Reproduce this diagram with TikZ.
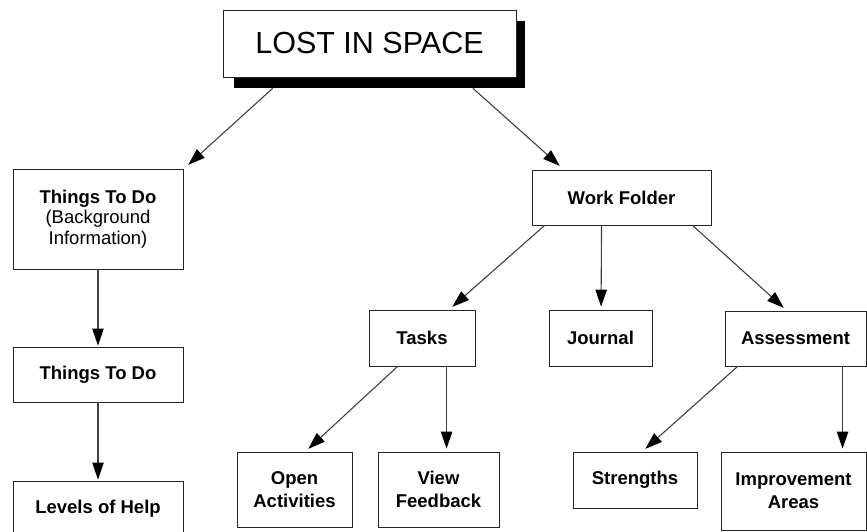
\documentclass[tikz,border=0pt]{standalone}
\usepackage{fontspec}
\setmainfont{Liberation Sans}
\usetikzlibrary{arrows.meta,calc}
\tikzset{
  box/.style={draw=black!85, line width=0.9pt, fill=white, align=center, inner sep=0pt,
    font=\bfseries\fontsize{18.5}{23}\selectfont},
  conn/.style={draw=black!75, line width=1.1pt, -{Triangle[length=17pt,width=11.5pt,color=black]}, shorten >=1pt},
}
\begin{document}
\begin{tikzpicture}[x=1pt,y=-1pt]
\useasboundingbox (0,0) rectangle (867,532);
% title with shadow
\node[fill=black, inner sep=0pt, minimum width=291pt, minimum height=67pt] (shadow) at (379.5,54.5) {};
\node[box, font=\fontsize{30.5}{34}\selectfont, minimum width=293pt, minimum height=67pt] (title) at (369.5,43.5) {LOST IN SPACE};
% left column
\node[box, font=\bfseries\fontsize{18.5}{20.5}\selectfont, minimum width=170pt, minimum height=100pt] (bg) at (98,219) {Things To Do\\\mdseries(Background\\\mdseries Information)};
\node[box, minimum width=170pt, minimum height=55pt] (todo) at (98,374.5) {Things To Do};
\node[box, minimum width=170pt, minimum height=56pt] (levels) at (98,509) {Levels of Help};
% right part
\node[box, minimum width=179pt, minimum height=55pt] (work) at (621.5,197.5) {Work Folder};
\node[box, minimum width=106pt, minimum height=56pt] (tasks) at (422,338) {Tasks};
\node[box, minimum width=103pt, minimum height=56pt] (journal) at (600.5,338) {Journal};
\node[box, minimum width=141pt, minimum height=55pt] (assess) at (795.5,338.5) {Assessment};
\node[box, minimum width=115pt, minimum height=75pt] (open) at (294.5,489.5) {Open\\Activities};
\node[box, minimum width=121pt, minimum height=75pt] (view) at (438.5,489.5) {View\\Feedback};
\node[box, minimum width=124pt, minimum height=56pt] (strength) at (635,480) {Strengths};
\node[box, minimum width=145pt, minimum height=78pt] (improve) at (793.5,491) {Improvement\\Areas};
% connectors
\draw[conn] ($(shadow.south west)+(39,0)$) -- ($(bg.north east)+(4,-3)$);
\draw[conn] ($(shadow.south west)+(239,0)$) -- ($(work.north west)+(29,-3)$);
\draw[conn] (bg.south) -- (todo.north);
\draw[conn] (todo.south) -- (levels.north);
\draw[conn] ($(work.south west)+(13,0)$) -- ($(tasks.north west)+(83,-2)$);
\draw[conn] ($(work.south west)+(70,0)$) -- ($(journal.north west)+(52.5,-2)$);
\draw[conn] ($(work.south west)+(161,0)$) -- ($(assess.north west)+(60,-2)$);
\draw[conn] ($(tasks.south west)+(29,0)$) -- ($(open.north west)+(71,-2)$);
\draw[conn] ($(tasks.south west)+(78,0)$) -- ($(view.north west)+(69,-2)$);
\draw[conn] ($(assess.south west)+(13,0)$) -- ($(strength.north west)+(72,-2)$);
\draw[conn] ($(assess.south west)+(118,0)$) -- ($(improve.north west)+(122,-2)$);
\end{tikzpicture}
\end{document}
